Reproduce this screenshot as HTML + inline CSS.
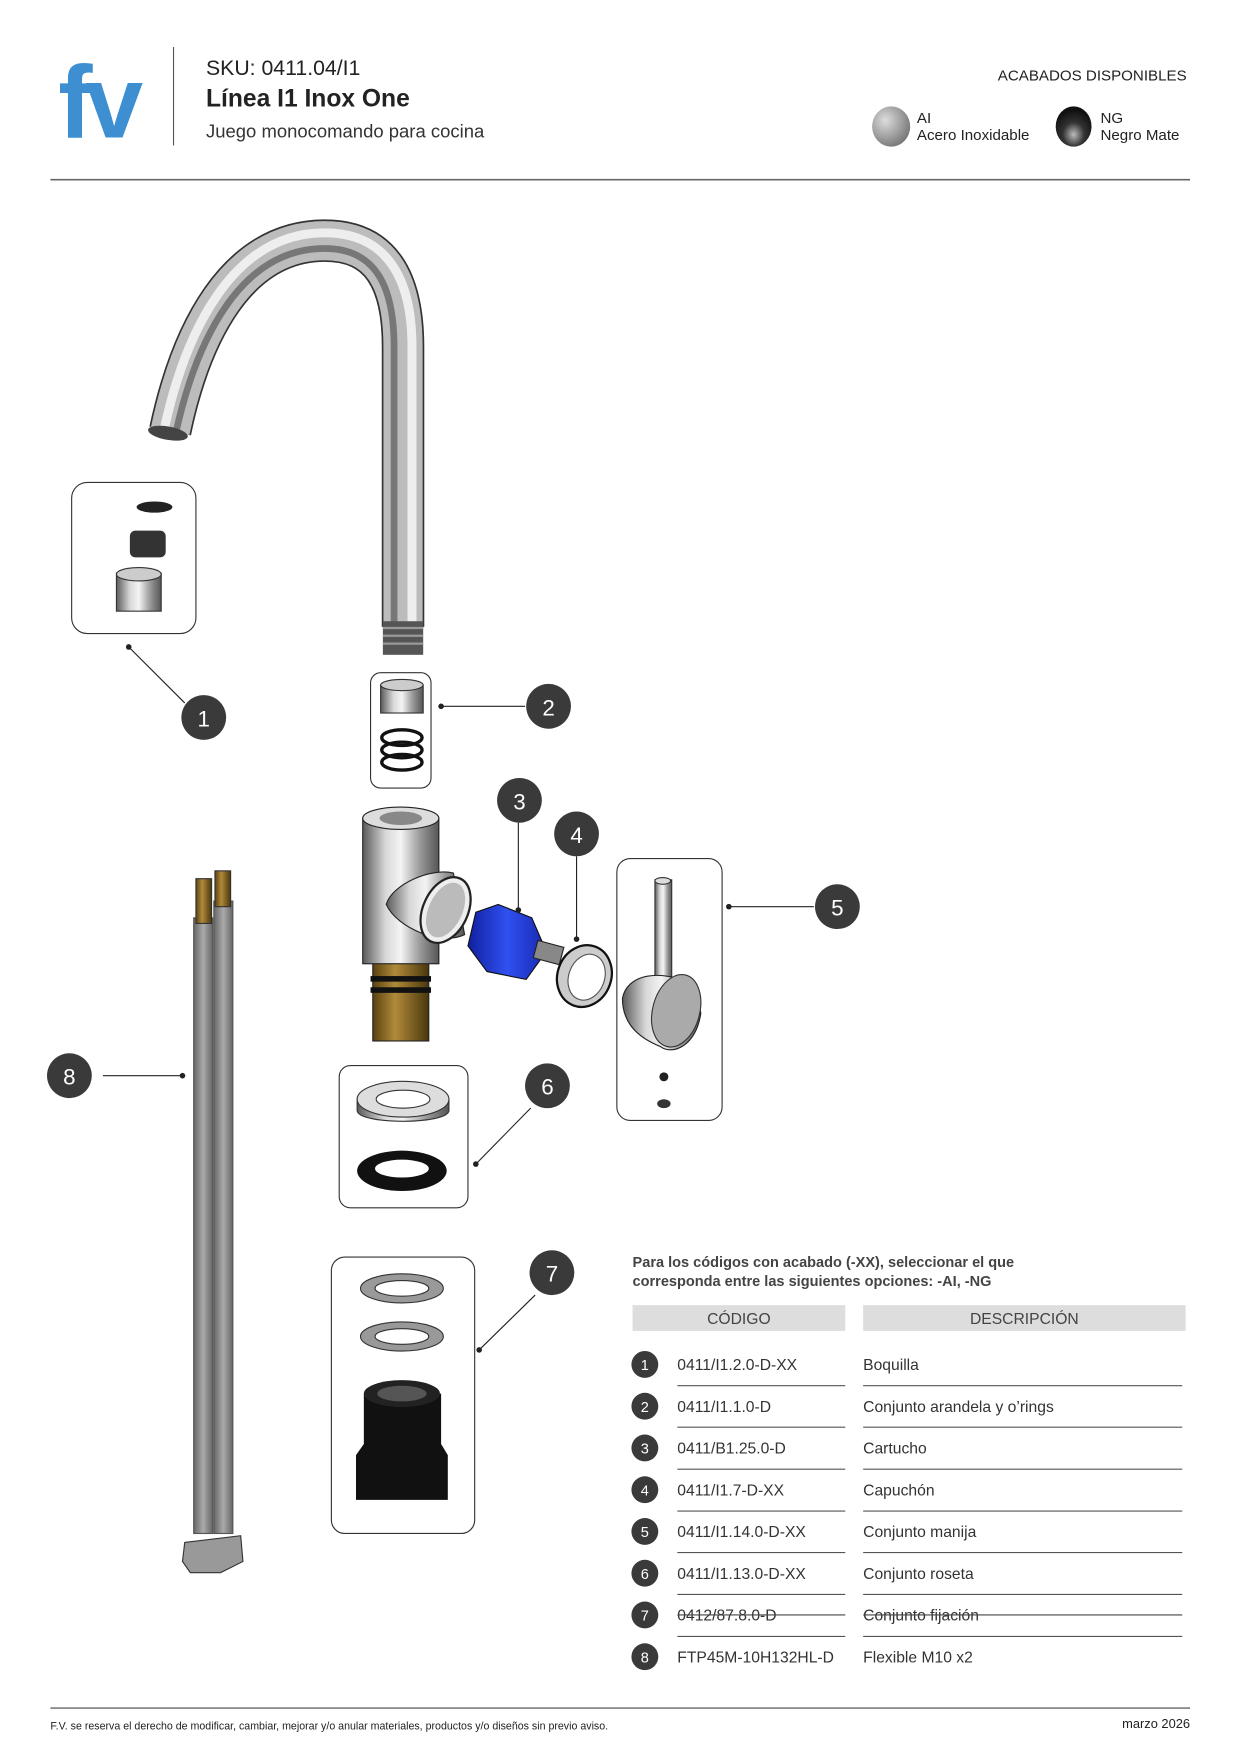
<!DOCTYPE html>
<html><head><meta charset="utf-8"><style>
html,body{margin:0;padding:0;background:#fff}
svg{display:block}
text{font-family:"Liberation Sans",sans-serif}
</style></head><body>
<svg width="1241" height="1754" viewBox="0 0 1108.5 1567" preserveAspectRatio="none" xmlns="http://www.w3.org/2000/svg">
<defs>
<linearGradient id="steel" x1="0" x2="1" y1="0" y2="0">
<stop offset="0" stop-color="#5a5a5a"/><stop offset=".3" stop-color="#d8d8d8"/><stop offset=".5" stop-color="#f4f4f4"/><stop offset=".75" stop-color="#9a9a9a"/><stop offset="1" stop-color="#555"/></linearGradient>
<linearGradient id="brass" x1="0" x2="1"><stop offset="0" stop-color="#5a4310"/><stop offset=".4" stop-color="#b08a3a"/><stop offset="1" stop-color="#4a370c"/></linearGradient>
<linearGradient id="blue" x1="0" x2="1"><stop offset="0" stop-color="#1020a0"/><stop offset=".5" stop-color="#3050f0"/><stop offset="1" stop-color="#1828b0"/></linearGradient>
<linearGradient id="hose" x1="0" x2="1"><stop offset="0" stop-color="#666"/><stop offset=".5" stop-color="#aaa"/><stop offset="1" stop-color="#666"/></linearGradient>
<radialGradient id="ai" cx=".35" cy=".35" r=".7"><stop offset="0" stop-color="#ddd"/><stop offset="1" stop-color="#777"/></radialGradient>
<radialGradient id="ng" cx=".5" cy=".7" r=".6"><stop offset="0" stop-color="#bbb"/><stop offset=".5" stop-color="#333"/><stop offset="1" stop-color="#111"/></radialGradient>
</defs>

<!-- header -->
<text x="52" y="123" font-size="92" font-weight="bold" fill="#3d8fd1" letter-spacing="-6">fv</text>
<line x1="155" y1="42" x2="155" y2="130" stroke="#555" stroke-width="1"/>
<text x="184" y="67" font-size="19" fill="#222">SKU: 0411.04/I1</text>
<text x="184" y="95" font-size="22" font-weight="bold" fill="#222">Línea I1 Inox One</text>
<text x="184" y="123" font-size="16.5" fill="#333">Juego monocomando para cocina</text>
<text x="1060" y="72" font-size="13.5" fill="#222" text-anchor="end">ACABADOS DISPONIBLES</text>
<ellipse cx="796" cy="113" rx="17" ry="18" fill="url(#ai)"/>
<text x="819" y="110" font-size="13.5" fill="#222">AI</text>
<text x="819" y="125" font-size="13.5" fill="#222">Acero Inoxidable</text>
<ellipse cx="959" cy="113" rx="16" ry="18" fill="url(#ng)"/>
<text x="983" y="110" font-size="13.5" fill="#222">NG</text>
<text x="983" y="125" font-size="13.5" fill="#222">Negro Mate</text>
<line x1="45" y1="160.5" x2="1063" y2="160.5" stroke="#666" stroke-width="1.5"/>

<!-- spout -->
<path d="M152,385 C170,300 210,215 290,215 C340,215 360,250 360,310 L360,560" fill="none" stroke="#333" stroke-width="38"/>
<path d="M152,385 C170,300 210,215 290,215 C340,215 360,250 360,310 L360,560" fill="none" stroke="#bcbcbc" stroke-width="35"/>
<path d="M147,382 C165,300 206,208 290,208 C345,208 368,248 368,310 L368,560" fill="none" stroke="#eee" stroke-width="8"/>
<path d="M157,387 C175,305 214,222 290,222 C335,222 352,255 352,310 L352,560" fill="none" stroke="#777" stroke-width="6"/>
<rect x="342" y="555" width="36" height="30" fill="#555"/>
<g stroke="#999" stroke-width="2"><line x1="342" y1="561" x2="378" y2="561"/><line x1="342" y1="568" x2="378" y2="568"/><line x1="342" y1="575" x2="378" y2="575"/></g>
<ellipse cx="150" cy="387" rx="18" ry="6" fill="#444" transform="rotate(10 150 387)"/>

<!-- box 1 -->
<rect x="64" y="431" width="111" height="135" rx="14" fill="none" stroke="#333"/>
<ellipse cx="138" cy="453" rx="16" ry="5" fill="#222"/>
<rect x="116" y="474" width="32" height="24" rx="5" fill="#333"/>
<rect x="104" y="512" width="40" height="34" fill="url(#steel)" stroke="#333"/>
<ellipse cx="124" cy="513" rx="20" ry="6" fill="#ccc" stroke="#333"/>
<line x1="115" y1="578" x2="165" y2="628" stroke="#222"/><circle cx="115" cy="578" r="2.5" fill="#222"/>

<!-- box 2 -->
<rect x="331" y="601" width="54" height="103" rx="9" fill="none" stroke="#333"/>
<rect x="340" y="612" width="38" height="25" fill="url(#steel)" stroke="#333"/>
<ellipse cx="359" cy="612" rx="19" ry="5" fill="#ccc" stroke="#333"/>
<ellipse cx="359" cy="659" rx="18" ry="7" fill="none" stroke="#111" stroke-width="3"/>
<ellipse cx="359" cy="670" rx="18" ry="7" fill="none" stroke="#111" stroke-width="3"/>
<ellipse cx="359" cy="681" rx="18" ry="7" fill="none" stroke="#111" stroke-width="3"/>
<line x1="394" y1="631" x2="469" y2="631" stroke="#222"/><circle cx="394" cy="631" r="2.5" fill="#222"/>

<!-- valve body -->
<rect x="333" y="855" width="50" height="75" fill="url(#brass)" stroke="#222"/>
<rect x="331" y="872" width="54" height="5" fill="#111"/><rect x="331" y="882" width="54" height="5" fill="#111"/>
<rect x="324" y="731" width="68" height="130" fill="url(#steel)" stroke="#222"/>
<ellipse cx="358" cy="731" rx="34" ry="10" fill="#ddd" stroke="#222"/>
<ellipse cx="358" cy="731" rx="19" ry="6" fill="#888"/>
<path d="M345,808 C350,790 385,775 405,780 L415,835 C395,845 355,830 345,808Z" fill="url(#steel)" stroke="#222"/>
<ellipse cx="398" cy="813" rx="20" ry="31" fill="#eee" stroke="#222" stroke-width="2" transform="rotate(25 398 813)"/>
<ellipse cx="398" cy="813" rx="15" ry="26" fill="#bbb" transform="rotate(25 398 813)"/>
<!-- cartridge -->
<path d="M425,815 L445,808 L475,820 L488,850 L470,875 L435,868 L418,845Z" fill="url(#blue)" stroke="#111"/>
<rect x="478" y="843" width="24" height="16" fill="#888" stroke="#222" transform="rotate(15 490 851)"/>
<line x1="463" y1="813" x2="463" y2="735" stroke="#222"/><circle cx="463" cy="813" r="2.5" fill="#222"/>
<!-- cap -->
<ellipse cx="522" cy="872" rx="24" ry="28" fill="#ccc" stroke="#111" stroke-width="2" transform="rotate(20 522 872)"/>
<ellipse cx="524" cy="873" rx="16" ry="21" fill="#fff" stroke="#555" transform="rotate(20 524 873)"/>
<line x1="515" y1="839" x2="515" y2="765" stroke="#222"/><circle cx="515" cy="839" r="2.5" fill="#222"/>

<!-- box 5 -->
<rect x="551" y="767" width="94" height="234" rx="12" fill="none" stroke="#333"/>
<rect x="585" y="786" width="15" height="98" fill="url(#steel)" stroke="#333"/>
<ellipse cx="592" cy="787" rx="7" ry="3" fill="#ddd" stroke="#333"/>
<path d="M556,892 C560,870 590,865 620,880 L626,905 C622,935 600,943 590,935 C565,925 556,910 556,892Z" fill="url(#steel)" stroke="#222"/>
<ellipse cx="604" cy="903" rx="21" ry="33" fill="#aaa" stroke="#333" transform="rotate(15 604 903)"/>
<circle cx="593" cy="962" r="4" fill="#222"/>
<ellipse cx="593" cy="986" rx="6" ry="4" fill="#333"/>
<line x1="651" y1="810" x2="727" y2="810" stroke="#222"/><circle cx="651" cy="810" r="2.5" fill="#222"/>

<!-- box 6 -->
<rect x="303" y="952" width="115" height="127" rx="10" fill="none" stroke="#333"/>
<path d="M319,982 L319,992 C319,1005 401,1005 401,992 L401,982Z" fill="url(#steel)" stroke="#333"/>
<ellipse cx="360" cy="982" rx="41" ry="16" fill="#ddd" stroke="#333"/>
<ellipse cx="360" cy="982" rx="24" ry="8" fill="#fff" stroke="#333"/>
<ellipse cx="359" cy="1046" rx="40" ry="18" fill="#111"/>
<ellipse cx="359" cy="1044" rx="24" ry="8" fill="#fff"/>
<line x1="425" y1="1040" x2="474" y2="990" stroke="#222"/><circle cx="425" cy="1040" r="2.5" fill="#222"/>

<!-- box 7 -->
<rect x="296" y="1123" width="128" height="247" rx="12" fill="none" stroke="#333"/>
<ellipse cx="359" cy="1151" rx="37" ry="13" fill="#999" stroke="#333"/>
<ellipse cx="359" cy="1151" rx="24" ry="7" fill="#fff" stroke="#333"/>
<ellipse cx="359" cy="1194" rx="37" ry="13" fill="#999" stroke="#333"/>
<ellipse cx="359" cy="1194" rx="24" ry="7" fill="#fff" stroke="#333"/>
<path d="M325,1245 L325,1290 L318,1300 L318,1340 L400,1340 L400,1300 L394,1290 L394,1245Z" fill="#111"/>
<ellipse cx="359" cy="1245" rx="34" ry="12" fill="#222"/>
<ellipse cx="359" cy="1245" rx="22" ry="7" fill="#555"/>
<line x1="428" y1="1206" x2="478" y2="1157" stroke="#222"/><circle cx="428" cy="1206" r="2.5" fill="#222"/>

<!-- hoses -->
<rect x="173" y="820" width="17" height="550" fill="url(#hose)" stroke="#555"/>
<rect x="191" y="805" width="17" height="565" fill="url(#hose)" stroke="#555"/>
<rect x="175" y="785" width="14" height="40" fill="url(#brass)" stroke="#333"/>
<rect x="192" y="778" width="14" height="32" fill="url(#brass)" stroke="#333"/>
<path d="M165,1378 L215,1372 L217,1395 L197,1405 L170,1405 L163,1395Z" fill="#999" stroke="#333"/>
<line x1="92" y1="961" x2="163" y2="961" stroke="#222"/><circle cx="163" cy="961" r="2.5" fill="#222"/>

<!-- callouts -->
<g font-size="20" fill="#fff" text-anchor="middle">
<circle cx="182" cy="641" r="20" fill="#3a3a3a"/><text x="182" y="649">1</text>
<circle cx="490" cy="631" r="20" fill="#3a3a3a"/><text x="490" y="639">2</text>
<circle cx="464" cy="715" r="20" fill="#3a3a3a"/><text x="464" y="723">3</text>
<circle cx="515" cy="745" r="20" fill="#3a3a3a"/><text x="515" y="753">4</text>
<circle cx="748" cy="810" r="20" fill="#3a3a3a"/><text x="748" y="818">5</text>
<circle cx="489" cy="970" r="20" fill="#3a3a3a"/><text x="489" y="978">6</text>
<circle cx="493" cy="1137" r="20" fill="#3a3a3a"/><text x="493" y="1145">7</text>
<circle cx="62" cy="961" r="20" fill="#3a3a3a"/><text x="62" y="969">8</text>
</g>

<!-- table -->
<text x="565" y="1132" font-size="13" font-weight="bold" fill="#444">Para los códigos con acabado (-XX), seleccionar el que</text>
<text x="565" y="1149" font-size="13" font-weight="bold" fill="#444">corresponda entre las siguientes opciones: -AI, -NG</text>
<rect x="565" y="1166" width="190" height="23" fill="#ddd"/>
<rect x="771" y="1166" width="288" height="23" fill="#ddd"/>
<text x="660" y="1183" font-size="14" fill="#444" text-anchor="middle">CÓDIGO</text>
<text x="915" y="1183" font-size="14" fill="#444" text-anchor="middle">DESCRIPCIÓN</text>
<g font-size="14" fill="#333">
<g transform="translate(0,0)"><circle cx="576" cy="1219" r="12" fill="#3a3a3a"/><text x="576" y="1224" fill="#fff" font-size="13" text-anchor="middle">1</text><text x="605" y="1224">0411/I1.2.0-D-XX</text><text x="771" y="1224">Boquilla</text></g>
<g transform="translate(0,37.3)"><circle cx="576" cy="1219" r="12" fill="#3a3a3a"/><text x="576" y="1224" fill="#fff" font-size="13" text-anchor="middle">2</text><text x="605" y="1224">0411/I1.1.0-D</text><text x="771" y="1224">Conjunto arandela y o’rings</text></g>
<g transform="translate(0,74.6)"><circle cx="576" cy="1219" r="12" fill="#3a3a3a"/><text x="576" y="1224" fill="#fff" font-size="13" text-anchor="middle">3</text><text x="605" y="1224">0411/B1.25.0-D</text><text x="771" y="1224">Cartucho</text></g>
<g transform="translate(0,111.9)"><circle cx="576" cy="1219" r="12" fill="#3a3a3a"/><text x="576" y="1224" fill="#fff" font-size="13" text-anchor="middle">4</text><text x="605" y="1224">0411/I1.7-D-XX</text><text x="771" y="1224">Capuchón</text></g>
<g transform="translate(0,149.2)"><circle cx="576" cy="1219" r="12" fill="#3a3a3a"/><text x="576" y="1224" fill="#fff" font-size="13" text-anchor="middle">5</text><text x="605" y="1224">0411/I1.14.0-D-XX</text><text x="771" y="1224">Conjunto manija</text></g>
<g transform="translate(0,186.5)"><circle cx="576" cy="1219" r="12" fill="#3a3a3a"/><text x="576" y="1224" fill="#fff" font-size="13" text-anchor="middle">6</text><text x="605" y="1224">0411/I1.13.0-D-XX</text><text x="771" y="1224">Conjunto roseta</text></g>
<g transform="translate(0,223.8)"><circle cx="576" cy="1219" r="12" fill="#3a3a3a"/><text x="576" y="1224" fill="#fff" font-size="13" text-anchor="middle">7</text><text x="605" y="1224">0412/87.8.0-D</text><text x="771" y="1224">Conjunto fijación</text>
<line x1="605" y1="1219" x2="755" y2="1219" stroke="#444"/><line x1="771" y1="1219" x2="1056" y2="1219" stroke="#444"/></g>
<g transform="translate(0,261.1)"><circle cx="576" cy="1219" r="12" fill="#3a3a3a"/><text x="576" y="1224" fill="#fff" font-size="13" text-anchor="middle">8</text><text x="605" y="1224">FTP45M-10H132HL-D</text><text x="771" y="1224">Flexible M10 x2</text></g>
</g>
<g stroke="#555" stroke-width="1">
<line x1="605" y1="1238" x2="755" y2="1238"/><line x1="771" y1="1238" x2="1056" y2="1238"/>
<line x1="605" y1="1275" x2="755" y2="1275"/><line x1="771" y1="1275" x2="1056" y2="1275"/>
<line x1="605" y1="1312.5" x2="755" y2="1312.5"/><line x1="771" y1="1312.5" x2="1056" y2="1312.5"/>
<line x1="605" y1="1350" x2="755" y2="1350"/><line x1="771" y1="1350" x2="1056" y2="1350"/>
<line x1="605" y1="1387" x2="755" y2="1387"/><line x1="771" y1="1387" x2="1056" y2="1387"/>
<line x1="605" y1="1424.5" x2="755" y2="1424.5"/><line x1="771" y1="1424.5" x2="1056" y2="1424.5"/>
<line x1="605" y1="1462" x2="755" y2="1462"/><line x1="771" y1="1462" x2="1056" y2="1462"/>
</g>

<!-- footer -->
<line x1="45" y1="1526" x2="1063" y2="1526" stroke="#666" stroke-width="1.2"/>
<text x="45" y="1545" font-size="9.5" fill="#222">F.V. se reserva el derecho de modificar, cambiar, mejorar y/o anular materiales, productos y/o diseños sin previo aviso.</text>
<text x="1063" y="1544" font-size="11.5" fill="#222" text-anchor="end">marzo 2026</text>
</svg>
</body></html>
